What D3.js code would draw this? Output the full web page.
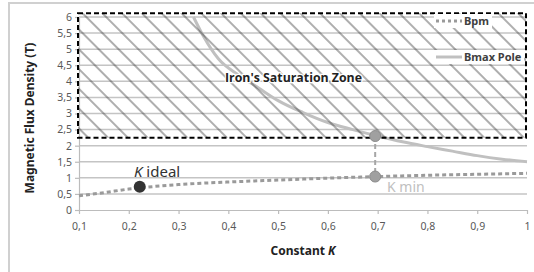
<!DOCTYPE html>
<html>
<head>
<meta charset="utf-8">
<script src="https://cdn.jsdelivr.net/npm/d3@7"></script>
<style>
  body { margin: 0; background: #fff; }
  text { font-family: "Noto Sans", "Open Sans", sans-serif; }
</style>
</head>
<body>
<div id="the_chart"></div>
<script>
// values
var kTicks = [0.1, 0.2, 0.3, 0.4, 0.5, 0.6, 0.7, 0.8, 0.9, 1];
var bTicks = [0, 0.5, 1, 1.5, 2, 2.5, 3, 3.5, 4, 4.5, 5, 5.5, 6];

var bpmK = [0.1, 0.15, 0.2, 0.25, 0.3, 0.4, 0.5, 0.6, 0.7, 0.8, 0.9, 1];
var bpmB = [0.44, 0.54, 0.65, 0.73, 0.79, 0.87, 0.93, 0.99, 1.04, 1.08, 1.11, 1.14];

var bmaxK = [0.33, 0.35, 0.38, 0.42, 0.46, 0.5, 0.55, 0.6, 0.65, 0.7, 0.75, 0.8, 0.85, 0.9, 0.95, 1];
var bmaxB = [6.0, 5.4, 4.7, 4.2, 3.8, 3.4, 3.03, 2.72, 2.5, 2.3, 2.12, 1.97, 1.83, 1.69, 1.58, 1.5];

var zoneK = [0.098, 0.998];
var zoneB = [2.25, 6.12];

var kIdeal = 0.222, kIdealB = 0.72;
var kMin = 0.695, kMinBpm = 1.04, kMinBmax = 2.3;

var legendNames = ["Bpm", "Bmax Pole"];

function gen_vis() {
    var w = 534, h = 272;
    var fmt = function (d) { return String(d).replace(".", ","); };

    var svg = d3.select("#the_chart").append("svg")
        .attr("width", w)
        .attr("height", h);

    // outer chart frame
    svg.append("rect")
        .attr("x", 9).attr("y", 3)
        .attr("width", 560).attr("height", 300)
        .attr("fill", "none")
        .attr("stroke", "#d0d0d0")
        .attr("stroke-width", 2);

    var xscale = d3.scaleLinear().domain([0.1, 1]).range([79, 527]);
    var yscale = d3.scaleLinear().domain([0, 6]).range([210, 17]);

    // gridlines
    svg.selectAll("line.grid")
        .data(bTicks.filter(function (d) { return d > 0; }))
        .enter().append("line")
        .attr("class", "grid")
        .attr("x1", xscale(0.1)).attr("x2", xscale(1))
        .attr("y1", function (d) { return yscale(d); })
        .attr("y2", function (d) { return yscale(d); })
        .attr("stroke", "#c4c4c4")
        .attr("stroke-width", 1.5);

    // axes
    var xaxis = d3.axisBottom(xscale).tickValues(kTicks).tickFormat(fmt).tickSize(4).tickSizeOuter(0);
    var gx = svg.append("g")
        .attr("transform", "translate(0," + yscale(0) + ")")
        .call(xaxis);
    gx.selectAll("text").attr("dy", "1.25em");

    var yaxis = d3.axisLeft(yscale).tickValues(bTicks).tickFormat(fmt).tickSize(4).tickSizeOuter(0);
    var gy = svg.append("g")
        .attr("transform", "translate(" + xscale(0.1) + ",0)")
        .call(yaxis);
    gy.selectAll("text").attr("x", -7);

    svg.selectAll(".domain, .tick line").attr("stroke", "#bcbcbc").attr("stroke-width", 1.2);
    svg.selectAll(".tick text")
        .style("font-size", "10.5px")
        .attr("fill", "#595959");

    // Bmax Pole curve
    var bmax = bmaxK.map(function (k, i) { return [k, bmaxB[i]]; });
    var bpm = bpmK.map(function (k, i) { return [k, bpmB[i]]; });
    var line = d3.line()
        .x(function (d) { return xscale(d[0]); })
        .y(function (d) { return yscale(d[1]); })
        .curve(d3.curveMonotoneX);

    svg.append("path")
        .datum(bmax)
        .attr("d", line)
        .attr("fill", "none")
        .attr("stroke", "#c0c0c0")
        .attr("stroke-width", 3);

    // saturation zone hatch
    var defs = svg.append("defs");
    var pat = defs.append("pattern")
        .attr("id", "hatch")
        .attr("patternUnits", "userSpaceOnUse")
        .attr("width", 14).attr("height", 14)
        .attr("patternTransform", "rotate(-45)");
    pat.append("line")
        .attr("x1", 7).attr("x2", 7)
        .attr("y1", 0).attr("y2", 14)
        .attr("stroke", "#333")
        .attr("stroke-width", 0.8);

    var zx = xscale(zoneK[0]), zy = yscale(zoneB[1]);
    var zw = xscale(zoneK[1]) - zx, zh = yscale(zoneB[0]) - zy;
    svg.append("rect")
        .attr("x", zx).attr("y", zy).attr("width", zw).attr("height", zh)
        .attr("fill", "url(#hatch)");
    svg.append("rect")
        .attr("x", zx).attr("y", zy).attr("width", zw).attr("height", zh)
        .attr("fill", "none")
        .attr("stroke", "#000")
        .attr("stroke-width", 2)
        .attr("stroke-dasharray", "5,3");

    svg.append("text")
        .attr("x", 225).attr("y", 82)
        .style("font-family", "'Open Sans', sans-serif")
        .style("font-weight", "bold")
        .style("font-size", "13px")
        .attr("textLength", 137)
        .attr("lengthAdjust", "spacingAndGlyphs")
        .attr("fill", "#222")
        .attr("stroke", "#fff")
        .attr("stroke-width", 2.5)
        .attr("paint-order", "stroke")
        .text("Iron's Saturation Zone");

    // Bpm curve
    svg.append("path")
        .datum(bpm)
        .attr("d", line)
        .attr("fill", "none")
        .attr("stroke", "#9a9a9a")
        .attr("stroke-width", 3)
        .attr("stroke-dasharray", "4,3");

    // K min guide
    svg.append("line")
        .attr("x1", xscale(kMin)).attr("x2", xscale(kMin))
        .attr("y1", yscale(kMinBmax)).attr("y2", yscale(kMinBpm))
        .attr("stroke", "#a6a6a6")
        .attr("stroke-width", 2)
        .attr("stroke-dasharray", "5,3");

    svg.selectAll("circle.kmin")
        .data([kMinBmax, kMinBpm])
        .enter().append("circle")
        .attr("class", "kmin")
        .attr("cx", xscale(kMin))
        .attr("cy", function (d) { return yscale(d); })
        .attr("r", 5.5)
        .attr("fill", "#a0a0a0")
        .attr("stroke", "#8c8c8c")
        .attr("stroke-width", 1);

    svg.append("circle")
        .attr("cx", xscale(kIdeal)).attr("cy", yscale(kIdealB))
        .attr("r", 6)
        .attr("fill", "#333");

    var ti = svg.append("text")
        .attr("x", 134).attr("y", 177)
        .style("font-size", "15px")
        .attr("fill", "#333");
    ti.append("tspan").style("font-style", "italic").text("K");
    ti.append("tspan").text(" ideal");

    svg.append("text")
        .attr("x", 387).attr("y", 192)
        .style("font-size", "14px")
        .attr("fill", "#c0c0c0")
        .text("K min");

    // legend
    var leg = svg.selectAll("g.leg")
        .data(legendNames)
        .enter().append("g")
        .attr("class", "leg")
        .attr("transform", function (d, i) { return "translate(434," + (i === 0 ? 21 : 57) + ")"; });
    leg.append("rect")
        .attr("x", 0).attr("y", -7)
        .attr("width", function (d, i) { return i === 0 ? 58 : 90; })
        .attr("height", 14)
        .attr("fill", "#fff");
    leg.append("line")
        .attr("x1", 2).attr("x2", 28)
        .attr("y1", 0).attr("y2", 0)
        .attr("stroke", function (d, i) { return i === 0 ? "#9a9a9a" : "#c0c0c0"; })
        .attr("stroke-width", 3)
        .attr("stroke-dasharray", function (d, i) { return i === 0 ? "3,3" : null; });
    leg.append("text")
        .attr("x", 30).attr("y", 4)
        .style("font-size", "11px")
        .style("font-weight", "bold")
        .attr("fill", "#404040")
        .text(function (d) { return d; });

    // axis titles
    var tx = svg.append("text")
        .attr("x", 303).attr("y", 255)
        .attr("text-anchor", "middle")
        .style("font-size", "12px")
        .style("font-weight", "bold")
        .attr("fill", "#222");
    tx.append("tspan").text("Constant ");
    tx.append("tspan").style("font-style", "italic").text("K");

    svg.append("text")
        .attr("transform", "translate(34,118) rotate(-90)")
        .attr("text-anchor", "middle")
        .style("font-size", "12px")
        .style("font-weight", "bold")
        .attr("fill", "#222")
        .text("Magnetic Flux Density (T)");
}

gen_vis();
</script>
</body>
</html>
